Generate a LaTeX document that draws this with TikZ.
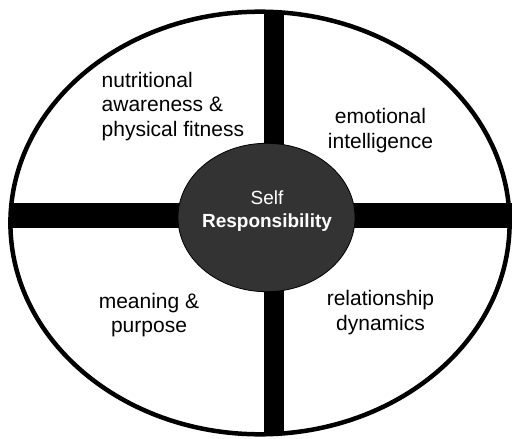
\documentclass[tikz,border=0pt]{standalone}
\usepackage{fontspec}
\setmainfont{Liberation Sans}
\usetikzlibrary{positioning}
\definecolor{coregray}{HTML}{333333}

\tikzset{
    ring/.style={draw=black, line width=4.5pt, fill=white},
    bar/.style={fill=black, draw=none},
    quad/.style={align=center, inner sep=0pt, anchor=base, font=\fontsize{21}{24.5}\selectfont},
    corelabel/.style={align=center, inner sep=0pt, anchor=base, text=white, font=\fontsize{19}{22.5}\selectfont}
}

\begin{document}
\begin{tikzpicture}[x=1pt, y=-1pt]

    \useasboundingbox (0, 0) rectangle (512, 439);

    \draw[ring] (260, 223) ellipse [x radius=249.6, y radius=211.3];

    \fill[bar] (264, 12) rectangle (284, 435);
    \fill[bar] (10, 203) rectangle (512, 228);

    \draw[fill=coregray, line width=0.8pt] (266.5, 217.5) ellipse [x radius=88.5, y radius=74.2];

    \node[corelabel] (self) at (267, 227.3) {Self\\\textbf{Responsibility}};

    \node[quad, align=left, anchor=base west] (nutrition) at (101.5, 136) {nutritional\\awareness \&\\physical fitness};
    \node[quad] (emotion) at (380.5, 148.3) {emotional\\intelligence};
    \node[quad] (meaning) at (149, 332.7) {meaning \&\\purpose};
    \node[quad] (relation) at (380.5, 330) {relationship\\dynamics};

\end{tikzpicture}
\end{document}
